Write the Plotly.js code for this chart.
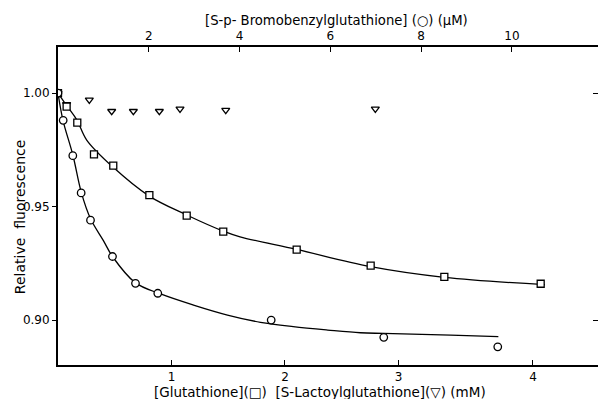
<!DOCTYPE html>
<html>
<head>
<meta charset="utf-8">
<script src="https://cdn.plot.ly/plotly-3.0.1.min.js"></script>
<style>html,body{margin:0;padding:0;background:#fff;}#chart{width:598px;height:399px;}</style>
</head>
<body>
<div id="chart"></div>
<script>
// Glutathione (squares), mM, bottom axis
const gshX = [0, 0.076, 0.17, 0.317, 0.487, 0.805, 1.134, 1.456, 2.103, 2.755, 3.404, 4.253];
const gshY = [1.000, 0.994, 0.987, 0.973, 0.968, 0.955, 0.946, 0.939, 0.931, 0.924, 0.919, 0.916];
const gshFitX = [0, 0.079, 0.167, 0.253, 0.482, 0.804, 1.134, 1.456, 1.604, 2.103, 2.755, 3.404, 4.29];
const gshFitY = [1.000, 0.9943, 0.9881, 0.9793, 0.9675, 0.9546, 0.9463, 0.9392, 0.9367, 0.9311, 0.9235, 0.9188, 0.9156];

// S-Lactoylglutathione (triangles), mM, bottom axis
const lacX = [0, 0.076, 0.276, 0.473, 0.664, 0.893, 1.075, 1.478, 2.796];
const lacY = [1.000, 0.995, 0.997, 0.992, 0.992, 0.992, 0.993, 0.9925, 0.993];

// S-p-Bromobenzylglutathione (circles), uM, top axis
const bbX = [0, 0.114, 0.326, 0.51, 0.716, 1.2, 1.707, 2.198, 4.696, 7.176, 9.687];
const bbY = [1.000, 0.988, 0.9724, 0.956, 0.944, 0.928, 0.9162, 0.9118, 0.900, 0.8924, 0.8882];
const bbFitX = [0, 0.11, 0.33, 0.51, 0.72, 1.0, 1.2, 1.7, 2.26, 2.985, 3.733, 4.46, 5.18, 5.94, 6.66, 7.17, 8.65, 9.70];
const bbFitY = [1.000, 0.988, 0.9725, 0.9565, 0.9445, 0.935, 0.928, 0.9165, 0.9115, 0.9066, 0.9022, 0.8990, 0.8971, 0.8956, 0.8944, 0.8941, 0.8934, 0.8927];

// tick labels
const bottomTickVals = [1, 2, 3, 4.185];
const bottomTickText = ['1', '2', '3', '4'];
const topTickVals = [2, 4, 6, 8, 10];
const yTickVals = [0.90, 0.95, 1.00];
const yTickText = ['0.90', '0.95', '1.00'];

const FONT = 'DejaVu Sans, Verdana, sans-serif';
const mk = (sym, size) => ({symbol: sym, size: size, color: '#fff', line: {color: '#000', width: 1.3}});

const traces = [
  {x: gshFitX, y: gshFitY, xaxis: 'x', yaxis: 'y', mode: 'lines', line: {color: '#000', width: 1.3, shape: 'spline', smoothing: 1}, hoverinfo: 'skip'},
  {x: bbFitX, y: bbFitY, xaxis: 'x2', yaxis: 'y', mode: 'lines', line: {color: '#000', width: 1.3, shape: 'spline', smoothing: 1}, hoverinfo: 'skip'},
  {x: lacX, y: lacY, xaxis: 'x', yaxis: 'y', mode: 'markers', marker: mk('triangle-down', 7)},
  {x: gshX, y: gshY, xaxis: 'x', yaxis: 'y', mode: 'markers', marker: mk('square', 7)},
  {x: bbX, y: bbY, xaxis: 'x2', yaxis: 'y', mode: 'markers', marker: mk('circle', 7.5)},
  {x: [0], y: [0.95], xaxis: 'x', yaxis: 'y2', mode: 'markers', marker: {opacity: 0}, hoverinfo: 'skip'}
];

const layout = {
  width: 598, height: 399,
  margin: {l: 58, r: 0, t: 47, b: 34},
  paper_bgcolor: '#fff', plot_bgcolor: '#fff',
  showlegend: false,
  font: {family: FONT, size: 12, color: '#000'},
  xaxis: {
    range: [0, 4.758], showgrid: false, zeroline: false,
    showline: true, linecolor: '#000', linewidth: 2,
    ticks: 'inside', ticklen: 5, tickwidth: 1, tickcolor: '#000',
    tickvals: bottomTickVals, ticktext: bottomTickText,
    tickfont: {family: FONT, size: 12}
  },
  xaxis2: {
    range: [0, 11.895], overlaying: 'x', side: 'top', showgrid: false, zeroline: false,
    showline: true, linecolor: '#000', linewidth: 2,
    ticks: 'inside', ticklen: 5, tickwidth: 1, tickcolor: '#000',
    tickvals: topTickVals, tickfont: {family: FONT, size: 12}
  },
  yaxis: {
    range: [0.8802, 1.0203], showgrid: false, zeroline: false,
    showline: true, linecolor: '#000', linewidth: 2,
    ticks: 'outside', ticklen: 4, tickwidth: 1, tickcolor: '#000',
    tickvals: yTickVals, ticktext: yTickText, tickfont: {family: FONT, size: 12}
  },
  yaxis2: {
    range: [0.8802, 1.0203], overlaying: 'y', side: 'right', showgrid: false, zeroline: false,
    showline: false, ticks: 'inside', ticklen: 5, tickwidth: 1, tickcolor: '#000',
    tickvals: [0.90, 1.00], showticklabels: false
  },
  annotations: [
    {text: '[S-p- Bromobenzylglutathione] (○) (μM)', xref: 'paper', yref: 'paper', x: 0.515, y: 1, yshift: 27,
     xanchor: 'center', yanchor: 'middle', showarrow: false, font: {family: FONT, size: 13.2}},
    {text: '[Glutathione](□)  [S-Lactoylglutathione](▽) (mM)', xref: 'paper', yref: 'paper', x: 0.485, y: 0, yshift: -27,
     xanchor: 'center', yanchor: 'middle', showarrow: false, font: {family: FONT, size: 13.5}},
    {text: 'Relative  fluorescence', xref: 'paper', yref: 'paper', x: 0, xshift: -38, y: 0.465,
     xanchor: 'center', yanchor: 'middle', textangle: -90, showarrow: false, font: {family: FONT, size: 14}}
  ]
};

Plotly.newPlot('chart', traces, layout, {displayModeBar: false, staticPlot: true});
</script>
</body>
</html>
